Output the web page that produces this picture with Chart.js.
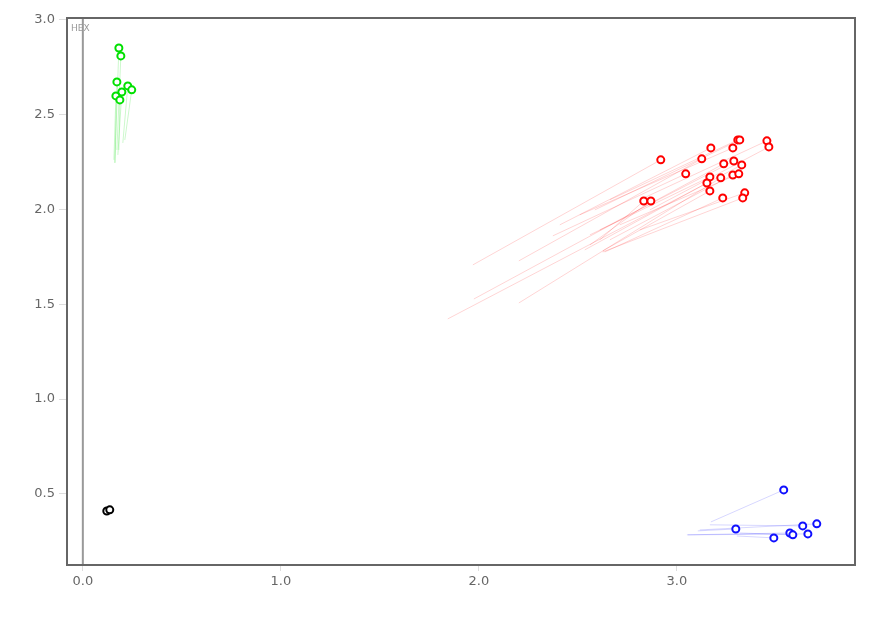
<!DOCTYPE html>
<html>
<head>
<meta charset="utf-8">
<script src="https://cdn.jsdelivr.net/npm/chart.js@4/dist/chart.umd.min.js"></script>
<style>
  body { margin: 0; background: #fff; }
  #wrap { width: 880px; height: 617px; }
</style>
</head>
<body>
<div id="wrap"><canvas id="c" width="880" height="617"></canvas></div>
<script>
// current positions and the earlier positions their trails come from
const redX = [2.919, 2.833, 2.869, 3.045, 3.126, 3.172, 3.237, 3.283, 3.288, 3.308, 3.318, 3.328, 3.167, 3.152, 3.222, 3.283, 3.313, 3.167, 3.232, 3.343, 3.333, 3.455, 3.465];
const redY = [2.262, 2.045, 2.045, 2.188, 2.267, 2.325, 2.241, 2.325, 2.256, 2.367, 2.367, 2.235, 2.172, 2.140, 2.167, 2.182, 2.188, 2.098, 2.061, 2.088, 2.061, 2.362, 2.330];
const redTailX = [1.970, 2.611, 2.561, 2.374, 2.202, 2.409, 1.975, 2.510, 2.611, 2.662, 2.586, 1.843, 2.561, 2.535, 2.202, 2.662, 2.712, 2.626, 2.636, 2.813, 2.626, 2.813, 2.864];
const redTailY = [1.708, 1.840, 1.813, 1.861, 1.729, 1.919, 1.528, 1.972, 1.892, 2.051, 1.998, 1.423, 1.866, 1.787, 1.507, 1.840, 1.919, 1.782, 1.776, 1.892, 1.776, 2.051, 1.998];

const greenX = [0.182, 0.192, 0.172, 0.227, 0.247, 0.197, 0.167, 0.187];
const greenY = [2.852, 2.810, 2.673, 2.652, 2.631, 2.620, 2.599, 2.578];
const greenTailX = [0.162, 0.172, 0.162, 0.202, 0.212, 0.177, 0.157, 0.182];
const greenTailY = [2.246, 2.314, 2.246, 2.351, 2.367, 2.288, 2.262, 2.314];

const blueX = [3.540, 3.298, 3.636, 3.707, 3.571, 3.586, 3.662, 3.490];
const blueY = [0.521, 0.315, 0.331, 0.342, 0.294, 0.284, 0.289, 0.268];
const blueTailX = [3.172, 3.106, 3.167, 3.116, 3.051, 3.318, 3.056, 3.303];
const blueTailY = [0.352, 0.305, 0.337, 0.310, 0.284, 0.294, 0.284, 0.278];

const blackX = [0.121, 0.136];
const blackY = [0.410, 0.416];

const xTicks = [0, 1, 2, 3];
const yTicks = [0.5, 1.0, 1.5, 2.0, 2.5, 3.0];

function pts(xs, ys) {
    return xs.map((x, i) => ({ x: x, y: ys[i] }));
}

const datasets = [];

function addTails(xs, ys, txs, tys, color) {
    xs.forEach((x, i) => {
        datasets.push({
            data: [{ x: x, y: ys[i] }, { x: txs[i], y: tys[i] }],
            showLine: true,
            borderColor: color,
            borderWidth: 1,
            pointRadius: 0,
            order: 2
        });
    });
}

addTails(redX, redY, redTailX, redTailY, "rgba(255,0,0,0.17)");
addTails(greenX, greenY, greenTailX, greenTailY, "rgba(0,220,0,0.2)");
addTails(blueX, blueY, blueTailX, blueTailY, "rgba(0,0,255,0.16)");

function addPoints(xs, ys, color) {
    datasets.push({
        data: pts(xs, ys),
        showLine: false,
        pointRadius: 3.5,
        pointBorderWidth: 2,
        pointBorderColor: color,
        pointBackgroundColor: "#fff",
        order: 1
    });
}

addPoints(redX, redY, "#ff0000");
addPoints(greenX, greenY, "#00e000");
addPoints(blueX, blueY, "#1010ff");
addPoints(blackX, blackY, "#000000");

// box round the plot, gray line at x = 0 and the HEX label
const frame = {
    id: "frame",
    beforeDatasetsDraw(chart) {
        const ctx = chart.ctx;
        const a = chart.chartArea;
        const x0 = chart.scales.x.getPixelForValue(0);
        ctx.save();
        ctx.strokeStyle = "#999";
        ctx.lineWidth = 2;
        ctx.beginPath();
        ctx.moveTo(x0, a.top);
        ctx.lineTo(x0, a.bottom);
        ctx.stroke();
        ctx.restore();
    },
    afterDraw(chart) {
        const ctx = chart.ctx;
        const a = chart.chartArea;
        ctx.save();
        ctx.strokeStyle = "#666";
        ctx.lineWidth = 2;
        ctx.strokeRect(a.left, a.top, a.right - a.left, a.bottom - a.top);
        ctx.fillStyle = "#999";
        ctx.font = "9px 'DejaVu Sans'";
        ctx.textBaseline = "top";
        ctx.fillText("HEX", a.left + 4, a.top + 6);
        ctx.restore();
    }
};

new Chart(document.getElementById("c"), {
    type: "scatter",
    data: { datasets: datasets },
    options: {
        responsive: false,
        animation: false,
        layout: { padding: { top: 18, right: 25, bottom: 0, left: 0 } },
        plugins: { legend: { display: false }, tooltip: { enabled: false } },
        scales: {
            x: {
                min: -0.08,
                max: 3.9,
                afterFit(s) { s.height = 52; },
                afterBuildTicks(s) { s.ticks = xTicks.map(v => ({ value: v })); },
                grid: { drawOnChartArea: false, color: "#ddd", tickLength: 6 },
                border: { display: false },
                ticks: {
                    color: "#666",
                    padding: 3,
                    font: { family: "DejaVu Sans", size: 13 },
                    callback: v => Number(v).toFixed(1)
                }
            },
            y: {
                min: 0.125,
                max: 3.01,
                afterFit(s) { s.width = 67; },
                afterBuildTicks(s) { s.ticks = yTicks.map(v => ({ value: v })); },
                grid: { drawOnChartArea: false, color: "#ddd", tickLength: 8 },
                border: { display: false },
                ticks: {
                    color: "#666",
                    padding: 4,
                    font: { family: "DejaVu Sans", size: 13 },
                    callback: v => Number(v).toFixed(1)
                }
            }
        }
    },
    plugins: [frame]
});
</script>
</body>
</html>
